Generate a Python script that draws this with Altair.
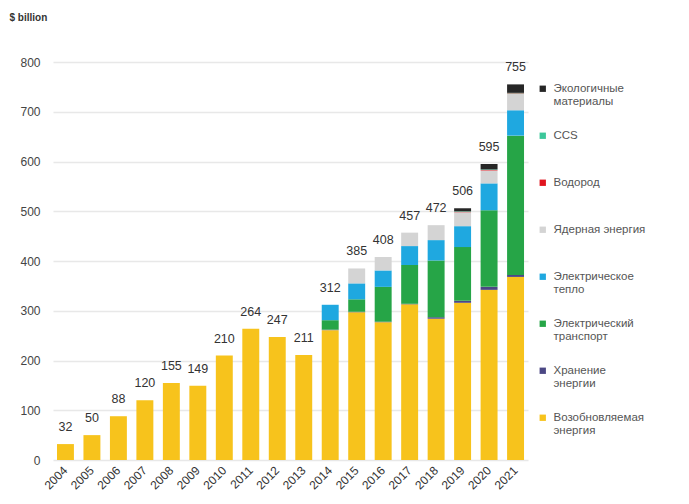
import altair as alt
import pandas as pd

years = ["2004", "2005", "2006", "2007", "2008", "2009", "2010", "2011", "2012",
         "2013", "2014", "2015", "2016", "2017", "2018", "2019", "2020", "2021"]

renewable = [32, 50, 88, 120, 155, 149, 210, 264, 247, 211, 261, 297, 277, 313, 284, 316, 342, 368]
storage   = [0, 0, 0, 0, 0, 0, 0, 0, 0, 0, 1, 1, 1, 1, 3, 4, 6, 4]
ev        = [0, 0, 0, 0, 0, 0, 0, 0, 0, 0, 19, 25, 70, 78, 114, 108, 154, 280]
heat      = [0, 0, 0, 0, 0, 0, 0, 0, 0, 0, 31, 32, 33, 38, 41, 42, 54, 51]
nuclear   = [0, 0, 0, 0, 0, 0, 0, 0, 0, 0, 0, 30, 27, 27, 30, 28, 26, 33]
hydrogen  = [0, 0, 0, 0, 0, 0, 0, 0, 0, 0, 0, 0, 0, 0, 0, 1, 1, 1]
ccs       = [0, 0, 0, 0, 0, 0, 0, 0, 0, 0, 0, 0, 0, 0, 0, 1, 1, 1]
eco       = [0, 0, 0, 0, 0, 0, 0, 0, 0, 0, 0, 0, 0, 0, 0, 6, 11, 17]

totals = [32, 50, 88, 120, 155, 149, 210, 264, 247, 211, 312, 385, 408, 457, 472, 506, 595, 755]

# bottom -> top stacking order
categories = [
    "Возобновляемая энергия",
    "Хранение энергии",
    "Электрический транспорт",
    "Электрическое тепло",
    "Ядерная энергия",
    "Водород",
    "CCS",
    "Экологичные материалы",
]
colors = ["#F7C31C", "#4B4784", "#26A547", "#1FA8E0", "#D4D4D4", "#E0141E", "#3CC79A", "#262626"]
series = [renewable, storage, ev, heat, nuclear, hydrogen, ccs, eco]

rows = []
for idx, (cat, vals) in enumerate(zip(categories, series)):
    for y, v in zip(years, vals):
        rows.append({"year": y, "category": cat, "value": v, "idx": idx})
df = pd.DataFrame(rows)
tot_df = pd.DataFrame({"year": years, "total": totals})

FONT = "Liberation Sans"

x_enc = alt.X(
    "year:O",
    sort=years,
    scale=alt.Scale(paddingInner=0.36, paddingOuter=0.15),
    axis=alt.Axis(
        title=None, labelAngle=-45, labelFontSize=12, labelColor="#333333",
        labelFont=FONT, ticks=False, domain=False, labelPadding=8,
        labelAlign="right", labelBaseline="middle",
    ),
)

legend_domain = list(reversed(categories))
legend_colors = list(reversed(colors))

label_expr = (
    "datum.label == 'Ядерная энергия' || indexof(datum.label, ' ') < 0 "
    "? [datum.label, '', ''] "
    ": [split(datum.label, ' ')[0], split(datum.label, ' ')[1], '']"
)

bars = alt.Chart(df).mark_bar().encode(
    x=x_enc,
    y=alt.Y(
        "sum(value):Q",
        stack="zero",
        scale=alt.Scale(domain=[0, 800], nice=False),
        axis=alt.Axis(
            title="$ billion", titleAngle=0, titleX=-44, titleY=-45,
            titleAlign="left", titleBaseline="middle", titleFontSize=10,
            titleFontWeight="bold", titleColor="#333333", titleFont=FONT,
            values=[0, 100, 200, 300, 400, 500, 600, 700, 800],
            labelFontSize=12, labelColor="#444444", labelFont=FONT,
            ticks=False, domain=False, labelPadding=13,
            grid=True, gridColor="#e8e8e8", gridWidth=1.5,
        ),
    ),
    color=alt.Color(
        "category:N",
        scale=alt.Scale(domain=legend_domain, range=legend_colors),
        legend=alt.Legend(
            title=None, orient="none", legendX=484, legendY=21,
            symbolType="square", symbolSize=40, symbolStrokeWidth=0,
            labelFontSize=11.5, labelColor="#555555", labelFont=FONT,
            labelExpr=label_expr, labelOffset=5, labelLimit=300,
            rowPadding=7, labelBaseline="middle",
        ),
    ),
    order=alt.Order("idx:Q", sort="ascending"),
)

labels = alt.Chart(tot_df).mark_text(
    dy=-17, fontSize=12.5, color="#333333", font=FONT, baseline="middle"
).encode(
    x=alt.X("year:O", sort=years),
    y=alt.Y("total:Q"),
    text=alt.Text("total:Q"),
)

chart = alt.layer(bars, labels).properties(
    width=475,
    height=398,
    autosize=alt.AutoSizeParams(type="none"),
    padding={"left": 45, "top": 54, "right": 150, "bottom": 34},
).configure_view(stroke=None)

chart.save("out.html", embed_options={"renderer": "svg", "actions": False})
